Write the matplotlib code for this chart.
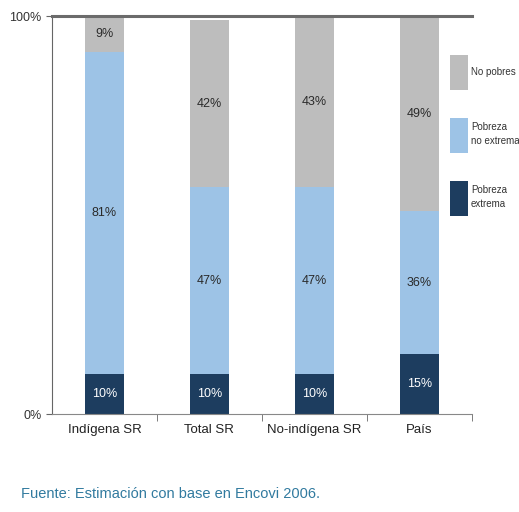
import numpy as np
import matplotlib
matplotlib.use('Agg')
import matplotlib.pyplot as plt

categorias = ['Indígena SR', 'Total SR', 'No-indígena SR', 'País']
extrema = [10, 10, 10, 15]
no_extrema = [81, 47, 47, 36]
no_pobres = [9, 42, 43, 49]
series = ['Pobreza\nextrema', 'Pobreza\nno extrema', 'No pobres']
colores = ['#1d3d5f', '#9dc3e6', '#bdbdbd']

plt.rcParams['font.family'] = ['Liberation Sans', 'DejaVu Sans']

fig = plt.figure(figsize=(5.19, 5.12), dpi=100)
ax = fig.add_axes([0.1002, 0.1914, 0.8088, 0.7773])

x = np.arange(len(categorias))
ancho = 0.37
base = np.zeros(len(categorias))
for valores, color, nombre in zip([extrema, no_extrema, no_pobres], colores, series):
    ax.bar(x, valores, ancho, bottom=base, color=color, label=nombre)
    for xi, v, b0 in zip(x, valores, base):
        ax.text(xi, b0 + v / 2, f'{v}%', ha='center', va='center', fontsize=9,
                color='white' if color == colores[0] else '#2a2a2a')
    base = base + np.array(valores)

ax.set_xlim(-0.5, 3.5)
ax.set_ylim(0, 100)
ax.set_yticks([0, 100])
ax.set_yticklabels(['0%', '100%'], fontsize=9, color='#333333')
ax.set_xticks(x)
ax.set_xticklabels(categorias, fontsize=9.5, color='#222222')
ax.tick_params(axis='x', length=0, pad=7)
ax.set_xticks(np.arange(0.5, 4, 1), minor=True)
ax.tick_params(axis='x', which='minor', length=5, color='#666666')
ax.tick_params(axis='y', length=4, color='#666666')

ax.spines['right'].set_visible(False)
ax.spines['top'].set_linewidth(2.2)
ax.spines['top'].set_color('#6b6b6b')
ax.spines['left'].set_color('#666666')
ax.spines['bottom'].set_color('#888888')

h, l = ax.get_legend_handles_labels()
leg = ax.legend(h[::-1], l[::-1], loc='upper left', bbox_to_anchor=(0.948, 0.902),
                frameon=False, fontsize=7, handlelength=1.86, handleheight=5.16,
                handletextpad=0.3, labelspacing=2.9, borderaxespad=0,
                borderpad=0)
for t in leg.get_texts():
    t.set_linespacing(1.5)
    t.set_color('#333333')

fig.text(0.04, 0.028, 'Fuente: Estimación con base en Encovi 2006.',
         fontsize=10.5, color='#317a9f')

fig.savefig('out.png', dpi=100)
